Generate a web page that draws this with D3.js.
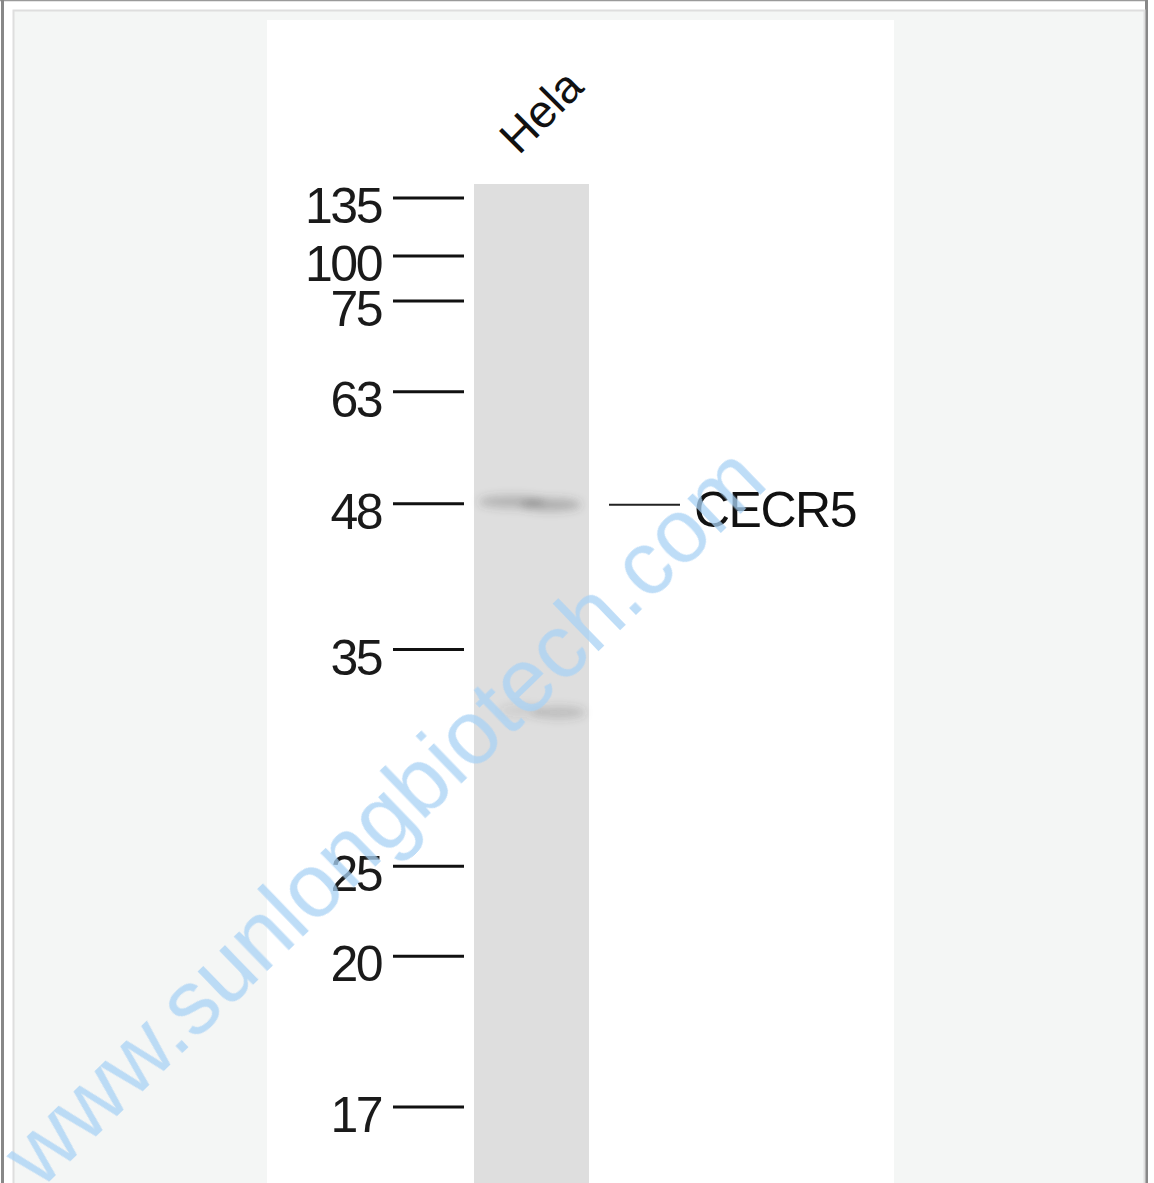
<!DOCTYPE html>
<html>
<head>
<meta charset="utf-8">
<script src="https://cdn.jsdelivr.net/npm/d3@7"></script>
<style>
  html, body { margin: 0; padding: 0; background: #fff; }
  svg { display: block; }
</style>
</head>
<body>
<div id="figure_blot_div"></div>
<script>
// marker ladder (kDa) and where each one ran, as fraction of lane length
var marker_kda = [135, 100, 75, 63, 48, 35, 25, 20, 17];
var marker_migration = [0.014, 0.072, 0.117, 0.208, 0.320, 0.466, 0.683, 0.773, 0.924];

var lane_names = ['Hela'];

// bands seen in the lane: migration, intensity, horizontal extent inside lane (0..1)
var band_migration = [0.318, 0.321, 0.529, 0.527];
var band_intensity = [0.26, 0.30, 0.20, 0.09];
var band_start = [0.04, 0.40, 0.50, 0.22];
var band_end = [0.62, 0.93, 0.97, 0.60];

var target_names = ['CECR5'];
var target_migration = [0.321];

var watermark_text = 'www.sunlongbiotech.com';

function figure_blot() {
    var width = 1154;
    var height = 1183;

    var panel = { x: 267, y: 20, width: 627 };
    var lane = { left: 474, right: 589, top: 184, bottom: 1183 };

    var svg = d3.select('#figure_blot_div')
        .append('svg')
        .attr('width', width)
        .attr('height', height);

    var defs = svg.append('defs');
    defs.append('filter')
        .attr('id', 'band_blur')
        .attr('x', '-30%').attr('y', '-300%')
        .attr('width', '160%').attr('height', '700%')
        .append('feGaussianBlur')
        .attr('stdDeviation', '4 4');

    // outer frame
    svg.append('line')
        .attr('x1', 0).attr('x2', 1147).attr('y1', 0.5).attr('y2', 0.5)
        .attr('stroke', '#9a9a9a').attr('stroke-width', 1.5);
    svg.append('rect')
        .attr('x', 1).attr('y', 0).attr('width', 3).attr('height', height)
        .attr('fill', '#888');
    svg.append('rect')
        .attr('x', 1145).attr('y', 0).attr('width', 3).attr('height', height)
        .attr('fill', '#888');

    // inner grey panel
    svg.append('rect')
        .attr('x', 13.5).attr('y', 10.5)
        .attr('width', 1131).attr('height', height)
        .attr('fill', '#f4f6f5')
        .attr('stroke', '#dedede').attr('stroke-width', 2);

    // white blot image
    svg.append('rect')
        .attr('x', panel.x).attr('y', panel.y)
        .attr('width', panel.width).attr('height', height - panel.y)
        .attr('fill', '#ffffff');

    var y = d3.scaleLinear()
        .domain([0, 1])
        .range([lane.top, lane.bottom]);

    var x_lane = d3.scaleLinear()
        .domain([0, 1])
        .range([lane.left, lane.right]);

    // lane
    svg.append('rect')
        .attr('x', lane.left).attr('y', lane.top)
        .attr('width', lane.right - lane.left)
        .attr('height', lane.bottom - lane.top)
        .attr('fill', '#dedede');

    // bands
    var band_data = band_migration.map(function(m, i) {
        return { m: m, v: band_intensity[i], s: band_start[i], e: band_end[i] };
    });
    svg.append('g')
        .attr('filter', 'url(#band_blur)')
        .selectAll('ellipse')
        .data(band_data)
        .enter()
        .append('ellipse')
        .attr('cx', function(d) { return (x_lane(d.s) + x_lane(d.e)) / 2; })
        .attr('cy', function(d) { return y(d.m); })
        .attr('rx', function(d) { return (x_lane(d.e) - x_lane(d.s)) / 2; })
        .attr('ry', 6.5)
        .attr('fill', '#444')
        .attr('opacity', function(d) { return d.v; });

    // marker ticks and labels
    var markers = marker_kda.map(function(k, i) { return { k: k, m: marker_migration[i] }; });
    var mg = svg.append('g');
    mg.selectAll('line')
        .data(markers)
        .enter()
        .append('line')
        .attr('x1', 393).attr('x2', 464)
        .attr('y1', function(d) { return y(d.m); })
        .attr('y2', function(d) { return y(d.m); })
        .attr('stroke', '#111')
        .attr('stroke-width', 3);
    mg.selectAll('text')
        .data(markers)
        .enter()
        .append('text')
        .attr('x', 381)
        .attr('y', function(d) { return y(d.m) + 25; })
        .attr('text-anchor', 'end')
        .style('font-size', '50px')
        .style('letter-spacing', '-2.5px')
        .attr('fill', '#1a1a1a')
        .text(function(d) { return d.k; });

    // lane name
    svg.selectAll('.lane_name')
        .data(lane_names)
        .enter()
        .append('text')
        .attr('class', 'lane_name')
        .attr('transform', function(d, i) {
            return 'translate(' + (x_lane(0.25) + 16) + ',156) rotate(-45)';
        })
        .style('font-size', '46px')
        .attr('fill', '#111')
        .text(function(d) { return d; });

    // target annotation
    var targets = target_names.map(function(t, i) { return { t: t, m: target_migration[i] }; });
    var tg = svg.append('g');
    tg.selectAll('line')
        .data(targets)
        .enter()
        .append('line')
        .attr('x1', 609).attr('x2', 680)
        .attr('y1', function(d) { return y(d.m); })
        .attr('y2', function(d) { return y(d.m); })
        .attr('stroke', '#222')
        .attr('stroke-width', 2);
    tg.selectAll('text')
        .data(targets)
        .enter()
        .append('text')
        .attr('x', 694)
        .attr('y', function(d) { return y(d.m) + 22; })
        .style('font-size', '50px')
        .style('letter-spacing', '-1.5px')
        .attr('fill', '#111')
        .text(function(d) { return d.t; });

    // watermark
    svg.append('text')
        .attr('transform', 'translate(405,838) rotate(-44)')
        .attr('text-anchor', 'middle')
        .style('font-size', '90px')
        .attr('fill', '#a9d2f5')
        .attr('opacity', 0.75)
        .text(watermark_text);

    svg.selectAll('text').style('font-family', '"Liberation Sans", Arial, sans-serif');
}

figure_blot();
</script>
</body>
</html>
